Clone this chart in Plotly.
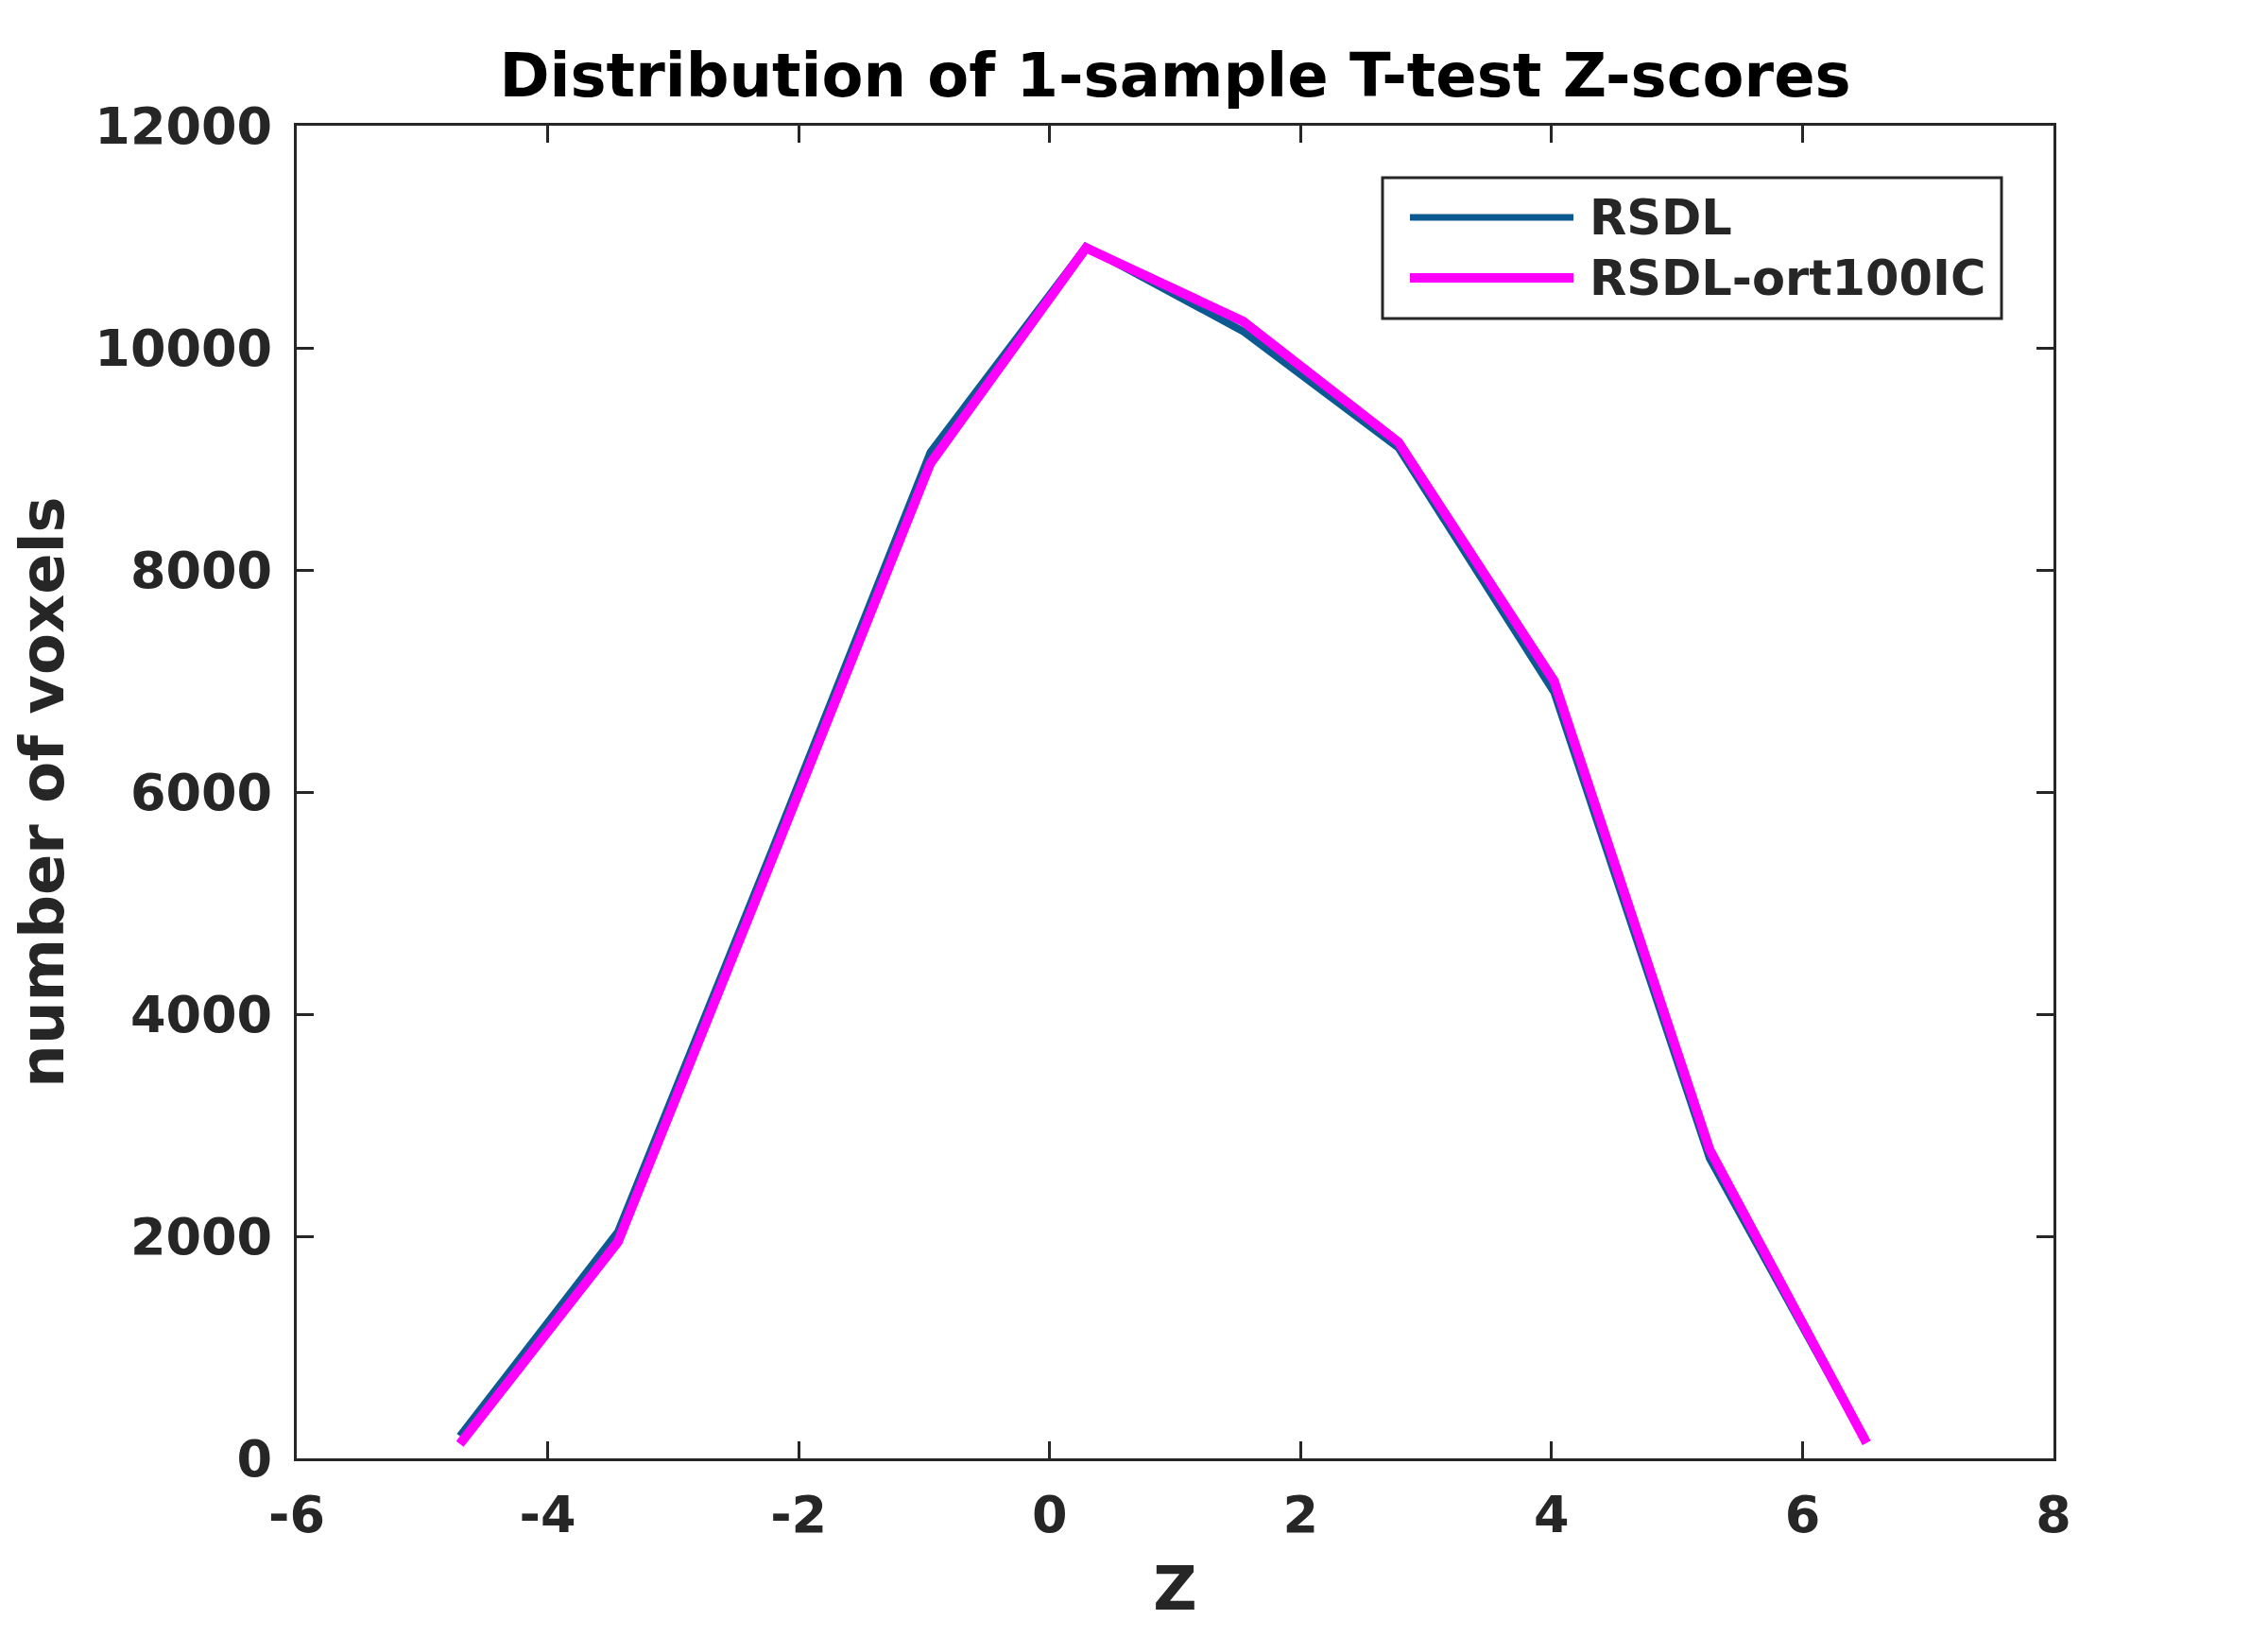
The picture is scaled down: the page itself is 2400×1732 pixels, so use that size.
import plotly.graph_objects as go

# Data
z_bins = [-4.70, -3.44, -2.21, -0.95, 0.29, 1.54, 2.78, 4.02, 5.26, 6.51]
rsdl = [200, 2040, 5480, 9060, 10910, 10150, 9100, 6900, 2700, 140]
rsdl_ort100ic = [130, 1950, 5400, 8960, 10900, 10240, 9150, 7000, 2780, 140]
series_names = ["RSDL", "RSDL-ort100IC"]
series_colors = ["#0d5a92", "#ff00ff"]
series_widths = [8, 10]
legend_widths = [7, 10]

x_ticks = [-6, -4, -2, 0, 2, 4, 6, 8]
y_ticks = [0, 2000, 4000, 6000, 8000, 10000, 12000]

W, H = 2400, 1732
OFF = 8  # page body margin
# plot area in screen pixels: left 314, right 2173, top 133, bottom 1543
L, R, T, B = 314 - OFF, W - (2173 - OFF), 133 - OFF, H - (1543 - OFF)
FONT = "DejaVu Sans"
TXT = "#262626"

fig = go.Figure()
for ys, name, col, w in zip([rsdl, rsdl_ort100ic], series_names, series_colors, series_widths):
    fig.add_trace(go.Scatter(x=z_bins, y=ys, mode="lines", name=name,
                             line=dict(color=col, width=w), showlegend=False))

axis_common = dict(showline=True, linecolor=TXT, linewidth=3, mirror="allticks",
                   ticks="inside", ticklen=18, tickwidth=3, tickcolor=TXT,
                   showgrid=False, zeroline=False,
                   tickfont=dict(family=FONT, size=54, color=TXT, weight="bold"))

fig.update_xaxes(range=[-6, 8], tickvals=x_ticks, ticktext=[str(v) for v in x_ticks],
                 ticklabelstandoff=10,
                 title=dict(text="Z", font=dict(family=FONT, size=64, color=TXT, weight="bold"), standoff=26),
                 **axis_common)
fig.update_yaxes(range=[0, 12000], tickvals=y_ticks, ticktext=[str(v) for v in y_ticks],
                 ticklabelstandoff=12,
                 title=dict(text="number of voxels", font=dict(family=FONT, size=64, color=TXT, weight="bold"), standoff=22),
                 **axis_common)

# Custom MATLAB-style legend (box, sample lines, labels) in paper coordinates
def px(xs):
    return (xs - OFF - L) / (W - L - R)

def py(ys):
    return (H - B - (ys - OFF)) / (H - T - B)

fig.add_shape(type="rect", xref="paper", yref="paper",
              x0=px(1463), x1=px(2118), y0=py(337), y1=py(188),
              line=dict(color=TXT, width=3), fillcolor="white", layer="above")
for name, col, w, yline in zip(series_names, series_colors, legend_widths, [230, 294]):
    fig.add_shape(type="line", xref="paper", yref="paper",
                  x0=px(1492), x1=px(1665), y0=py(yline), y1=py(yline),
                  line=dict(color=col, width=w), layer="above")
    fig.add_annotation(xref="paper", yref="paper", x=px(1680), y=py(yline),
                       xanchor="left", yanchor="middle", text=name, showarrow=False,
                       font=dict(family=FONT, size=51, color=TXT, weight="bold"))

fig.update_layout(
    width=W, height=H,
    margin=dict(l=L, r=R, t=T, b=B, autoexpand=False),
    paper_bgcolor="white", plot_bgcolor="white",
    title=dict(text="Distribution of 1-sample T-test Z-scores", x=(L + (W - R)) / 2 / W,
               xanchor="center", y=1 - (80 - OFF) / H, yanchor="middle",
               font=dict(family=FONT, size=64, color="black", weight="bold")),
    showlegend=False,
)

fig.write_html("out.html")
